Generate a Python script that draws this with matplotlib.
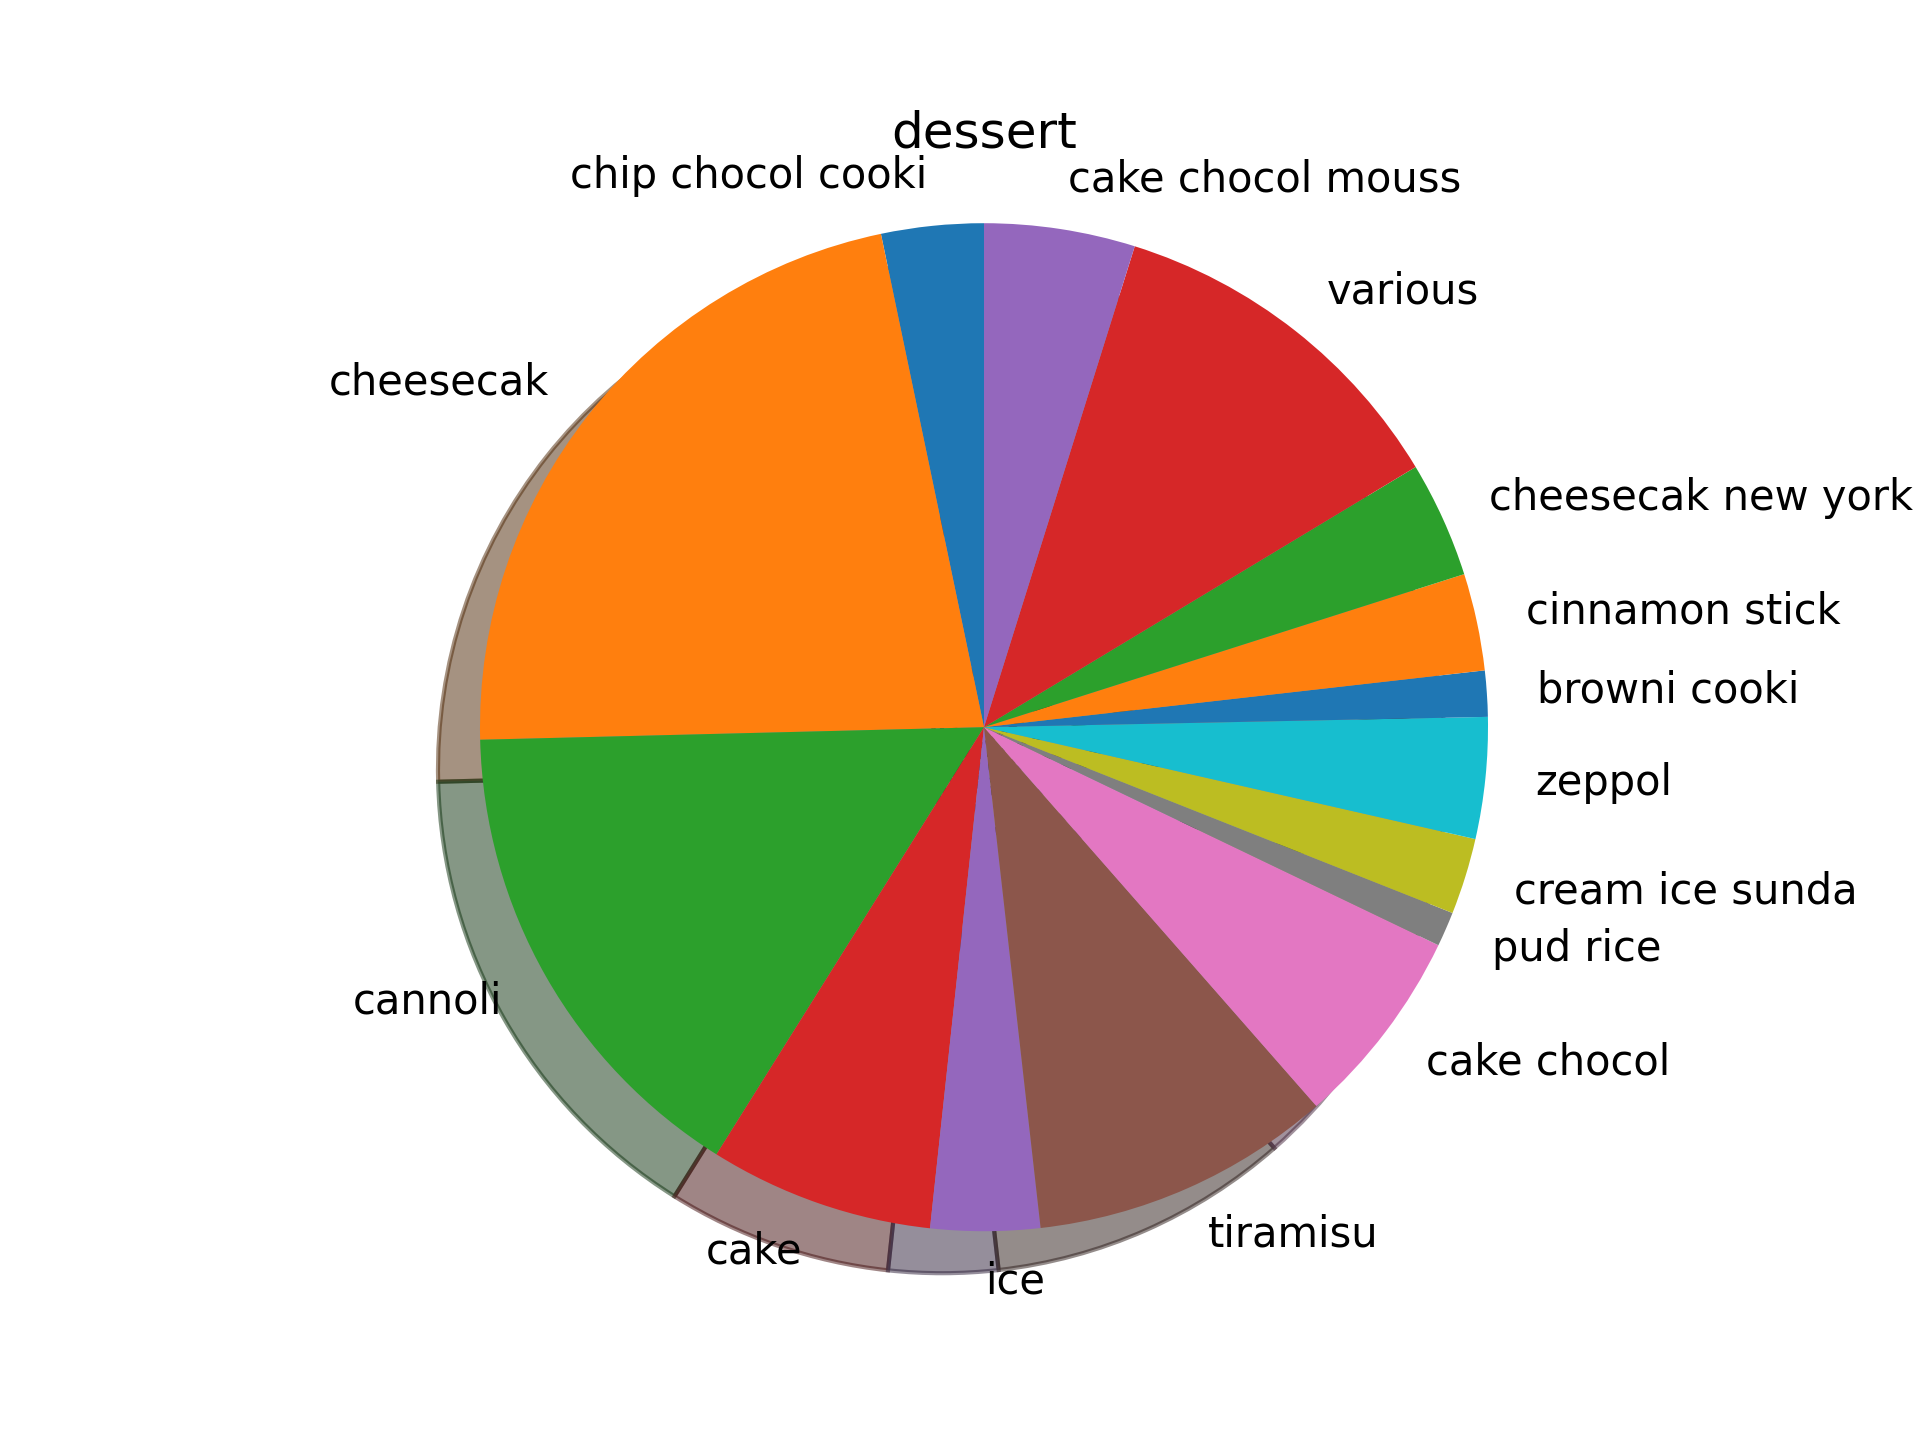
import matplotlib
matplotlib.use("Agg")
import matplotlib.pyplot as plt

# wedge sizes (degrees of the full circle)
labels = ["chip chocol cooki", "cheesecak", "cannoli", "cake", "ice",
          "tiramisu", "cake chocol", "pud rice", "cream ice sunda", "zeppol",
          "browni cooki", "cinnamon stick", "cheesecak new york", "various",
          "cake chocol mouss"]
sizes = [11.8, 79.6, 56.5, 25.9, 12.6,
         34.8, 23.1, 4.0, 8.8, 14.0,
         5.3, 11.2, 13.4, 41.5, 17.4]

fig, ax = plt.subplots(figsize=(6.4, 4.8), dpi=300)
ax.pie(sizes, labels=labels, shadow=True, startangle=90)
ax.set_xlim(-1.1, 1.1)
ax.set_ylim(-1.1, 1.1)
ax.set_title("dessert")
fig.savefig("out.png", dpi=300)
